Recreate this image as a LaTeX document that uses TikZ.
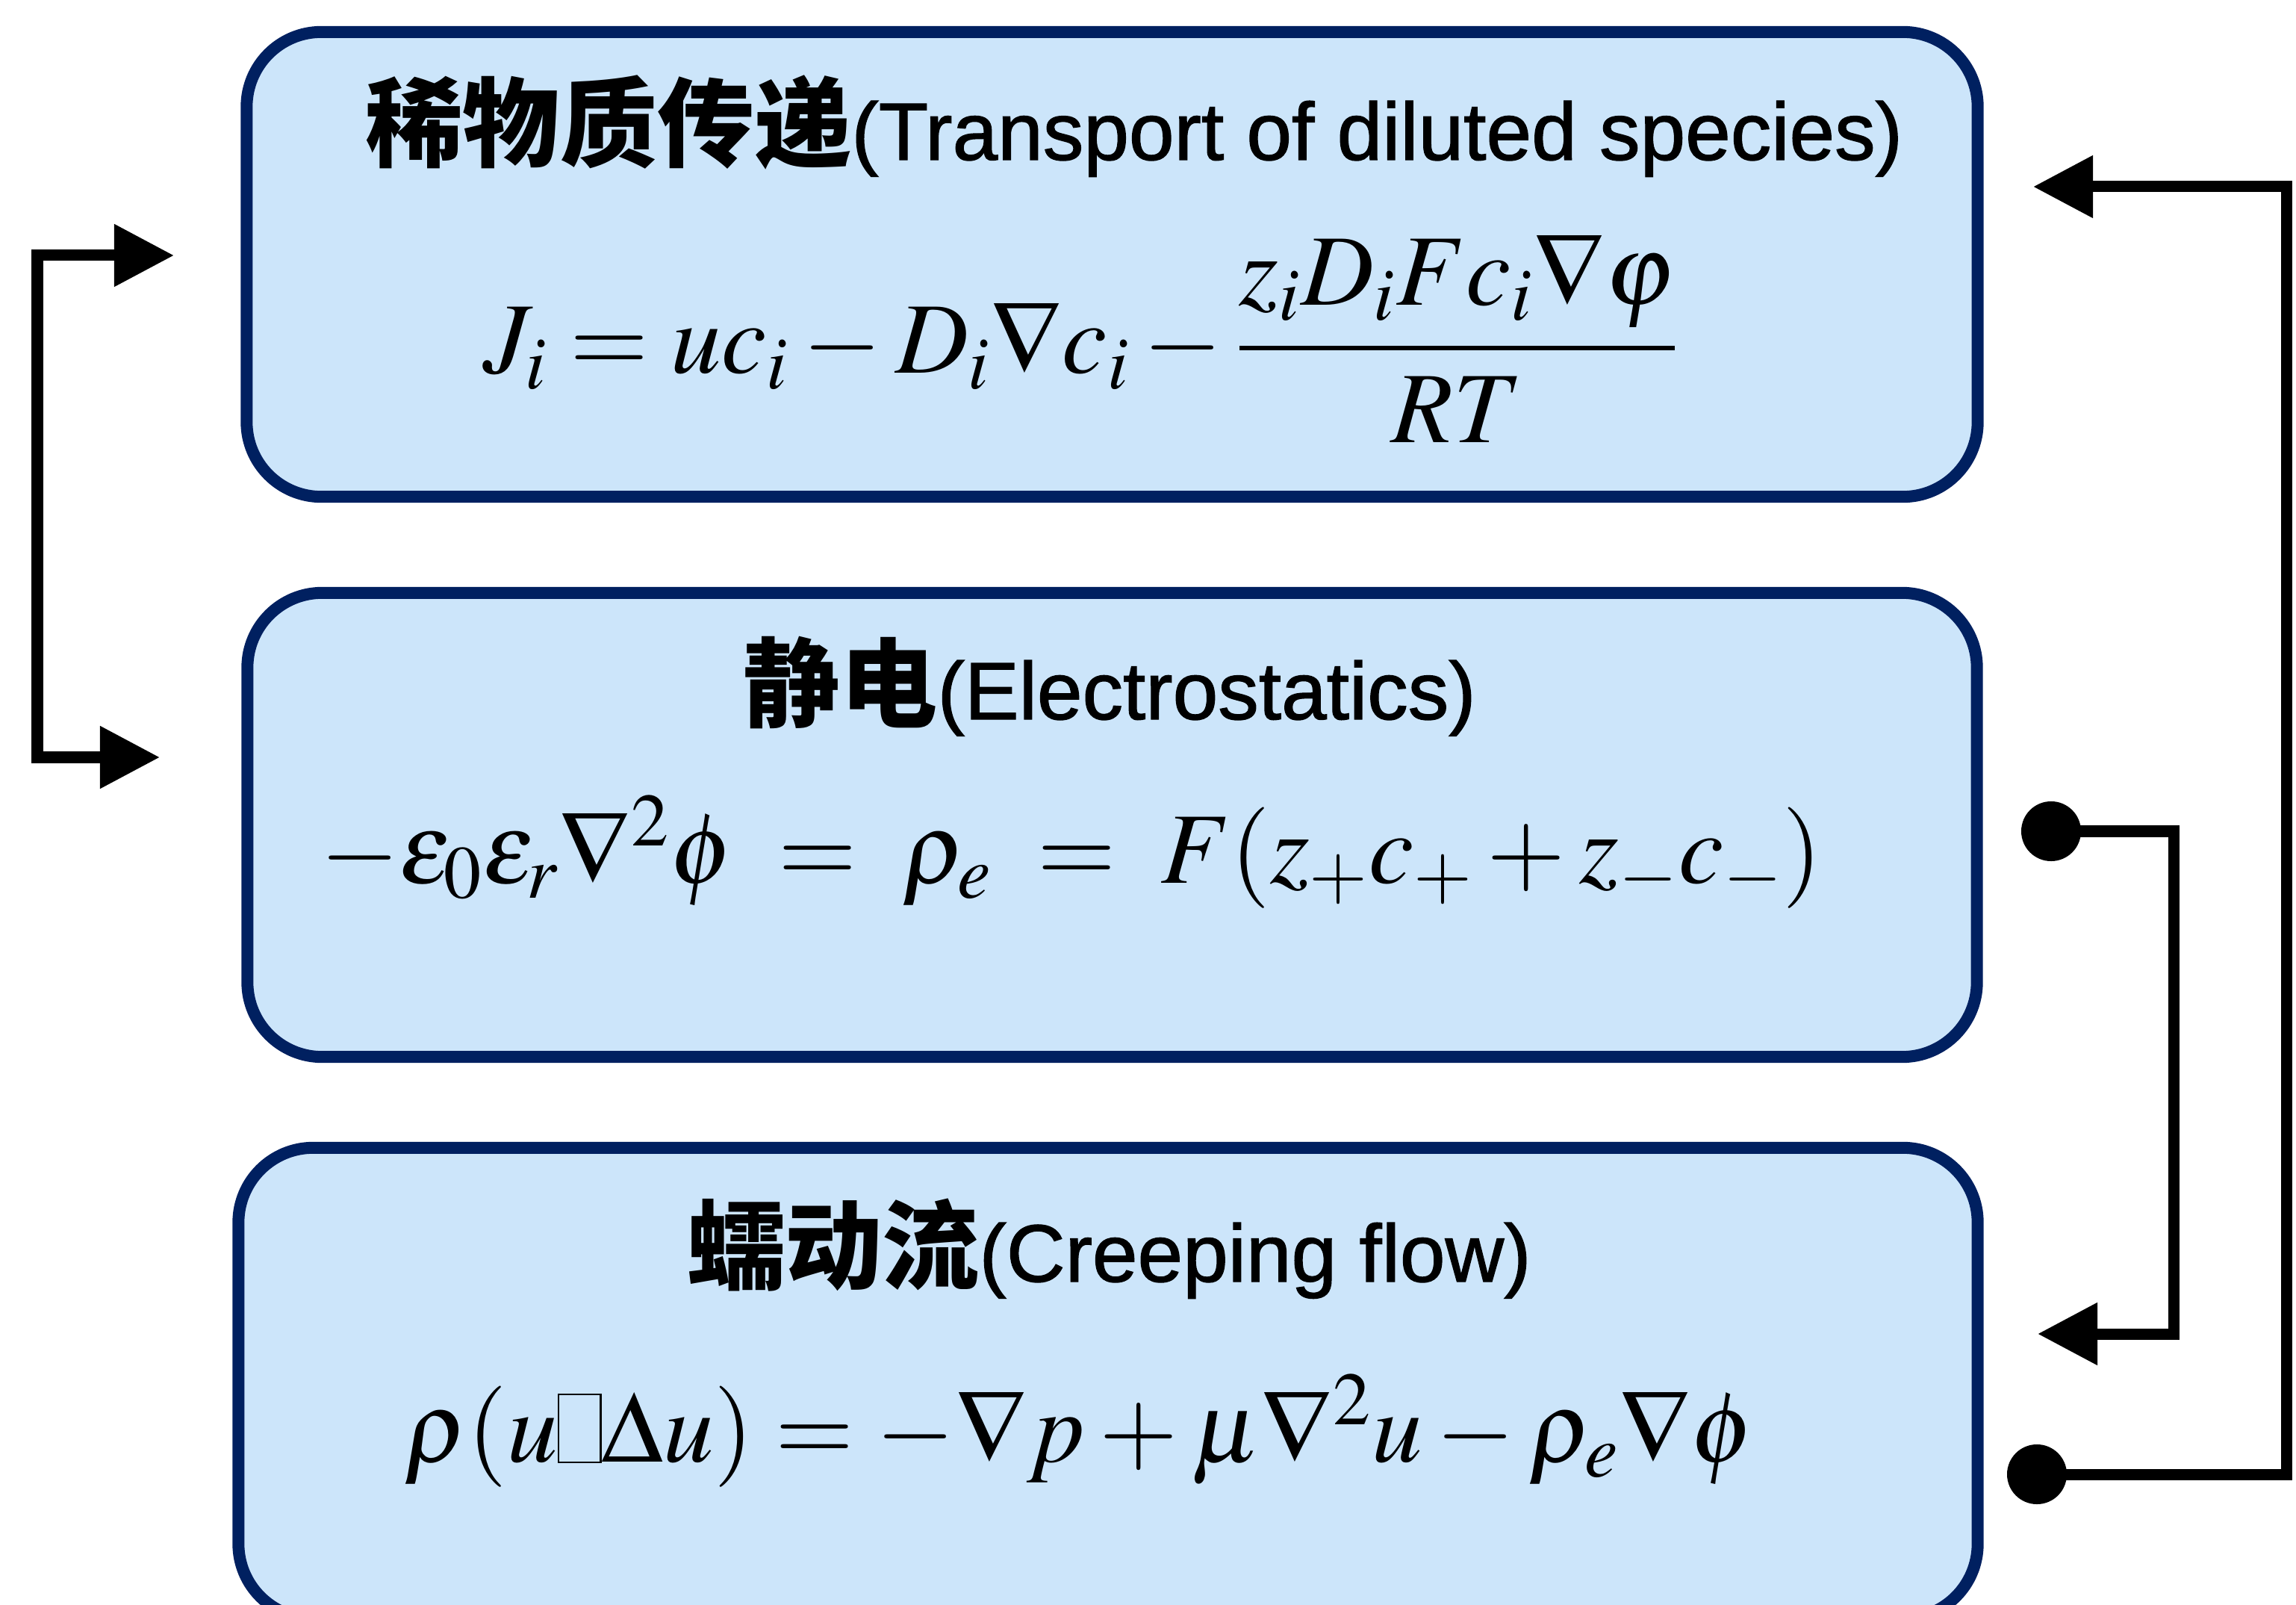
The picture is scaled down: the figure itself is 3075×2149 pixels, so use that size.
\documentclass[tikz,border=0pt]{standalone}
\usepackage{mathptmx}
\usepackage{fontspec}
\usepackage{xcolor}
\usepackage{tikz}
\usetikzlibrary{arrows.meta,positioning}
\newfontfamily\cjkfont{Noto Sans CJK SC}
\newfontfamily\latinsans{Liberation Sans}[UprightFeatures={FakeBold=1.2}]
\definecolor{panelfill}{HTML}{CCE5FA}
\definecolor{paneledge}{HTML}{002060}
\newcommand{\tofubox}{\mbox{\fboxsep=0pt\fboxrule=0.6pt\fbox{\rule{0pt}{0.66em}\hspace{0.4em}}}}
\begin{document}
\begin{tikzpicture}[x=0.01cm,y=-0.01cm,
  panel/.style={draw=paneledge,line width=0.16cm,fill=panelfill,rounded corners=1cm,inner sep=0pt},
  heading/.style={anchor=base,inner sep=0pt},
  formula/.style={anchor=base,inner sep=0pt,font=\fontsize{38.5}{46}\selectfont},
  link/.style={line width=0.15cm,draw=black},
  arr/.style={link,-{Triangle[length=8mm,width=8mm]}},
  biarr/.style={link,{Triangle[length=8mm,width=8mm]}-{Triangle[length=8mm,width=8mm]}},
  blob/.style={circle,fill=black,minimum size=0.8cm,inner sep=0pt}
]
\useasboundingbox (0,0) rectangle (3075,2149);
\clip (0,0) rectangle (3075,2149);

% three model panels
\node[panel,minimum width=23.17cm,minimum height=6.22cm] (diluted) at (1489.5,354) {};
\node[panel,minimum width=23.15cm,minimum height=6.21cm] (electro) at (1489.5,1104.5) {};
\node[panel,minimum width=23.28cm,minimum height=6.30cm] (creep) at (1484,1852) {};

\node[heading] (dilutedtitle) at (1519,214) {{\cjkfont\bfseries\fontsize{37}{44}\selectfont 稀物质传递}{\latinsans\fontsize{31}{37}\selectfont(Transport of diluted species)}};
\node[heading] (electrotitle) at (1486,963) {{\cjkfont\bfseries\fontsize{37}{44}\selectfont 静电}{\latinsans\fontsize{31}{37}\selectfont(Electrostatics)}};
\node[heading] (creeptitle) at (1486,1716) {{\cjkfont\bfseries\fontsize{37}{44}\selectfont 蠕动流}{\latinsans\fontsize{31}{37}\selectfont(Creeping flow)}};

\node[formula] (dilutedeq) at (1447,500) {$J_{i}=uc_{i}-D_{i}\nabla c_{i}-\displaystyle\frac{z_{i}D_{i}Fc_{i}\nabla\varphi}{RT}$};
\node[formula] (electroeq) at (1435,1182) {$-\varepsilon_{0}\varepsilon_{r}\nabla^{2}\phi\;=\;\rho_{e}\;=\;F(z_{+}c_{+}+z_{-}c_{-})$};
\node[formula] (creepeq) at (1446,1957) {$\rho(u\tofubox\Delta u)=-\nabla p+\mu\nabla^{2}u-\rho_{e}\nabla\phi$};

% couplings
\coordinate (inleftA) at (233,342);
\coordinate (inleftB) at (214,1014);
\draw[biarr] (inleftA) -- ++(-183,0) |- (inleftB);

\node[blob] (srcinner) at (2747,1113) {};
\coordinate (ininner) at (2729,1786);
\draw[arr] (srcinner.center) -- ++(164,0) |- (ininner);

\node[blob] (srcouter) at (2728,1974) {};
\coordinate (inouter) at (2723,250);
\draw[arr] (srcouter.center) -- ++(334,0) |- (inouter);
\end{tikzpicture}
\end{document}
